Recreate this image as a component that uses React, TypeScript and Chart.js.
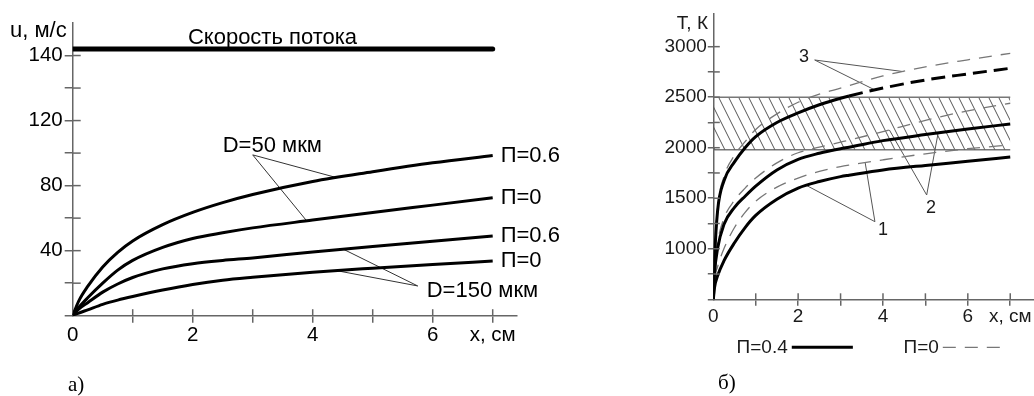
import React, { useEffect, useRef } from 'react';
import { Chart, registerables } from 'chart.js';

Chart.register(...registerables);

// ---------------- Panel а): particle velocity u(x) ----------------
const xA = [0, 0.1, 0.25, 0.5, 0.75, 1, 1.5, 2, 2.5, 3, 4, 5, 6, 7];
const uD50P06 = [0, 9, 18, 30, 39, 46, 56, 63.5, 69.5, 74.5, 82.5, 88.5, 94, 98.5];
const uD50P0 = [0, 5, 11, 20, 28, 34, 42, 47.5, 51, 54, 58.8, 63.5, 68, 72.5];
const uD150P06 = [0, 4, 8, 14.5, 19.5, 23.5, 28.8, 32, 34, 35.5, 39.2, 42.6, 45.8, 49];
const uD150P0 = [0, 1.6, 3.6, 7, 9.6, 11.8, 15.8, 19.2, 21.8, 23.6, 26.7, 29.2, 31.5, 33.6];
const flowX = [0, 7];
const flowU = [164, 164];
const endLabelsA = ['П=0.6', 'П=0', 'П=0.6', 'П=0'];
const xTickLabels = ['0', '', '2', '', '4', '', '6', 'x, см'];
const yTickLabelsA = ['', '', '40', '', '80', '', '120', '', '140'];
// leader lines: [fromX, fromY, toX, toY]
const leadersA = [
  [3.0, 98.9, 4.4, 84.9],
  [3.0, 98.9, 3.9, 58.3],
  [5.75, 18.3, 4.51, 40.9],
  [5.75, 18.3, 4.4, 27.7],
];

// ---------------- Panel б): temperature T(x) ----------------
const xB = [0, 0.03, 0.1, 0.25, 0.5, 0.75, 1, 1.5, 2, 2.5, 3, 3.2, 4, 5, 6, 7];
const t3P04 = [500, 900, 1370, 1670, 1860, 2000, 2110, 2250, 2345, 2425, 2490, 2512, 2590, 2670, 2730, 2786];
const t3P0 = [500, 920, 1400, 1710, 1925, 2060, 2180, 2335, 2450, 2530, 2590, 2615, 2710, 2800, 2870, 2934];
const t2P04 = [500, 760, 1000, 1240, 1410, 1520, 1620, 1780, 1885, 1945, 1990, 2005, 2070, 2130, 2185, 2235];
const t2P0 = [500, 800, 1060, 1300, 1480, 1600, 1700, 1850, 1950, 2005, 2055, 2075, 2160, 2270, 2365, 2440];
const t1P0 = [500, 690, 820, 1000, 1210, 1360, 1470, 1610, 1700, 1765, 1813, 1828, 1880, 1940, 1990, 2027];
const t1P04 = [500, 620, 730, 880, 1060, 1210, 1330, 1490, 1600, 1665, 1714, 1728, 1780, 1825, 1865, 1908];
const solidEndX = 3.2;
const bandX = [0, 7];
const bandTop = [2500, 2500];
const bandBottom = [1980, 1980];
const yTickLabelsB = ['', '', '1000', '', '1500', '', '2000', '', '2500', '', '3000'];
const leadersB = [
  [2.39, 2868, 4.48, 2753],
  [2.39, 2868, 3.81, 2571],
  [5.03, 1532, 5.3, 2146],
  [5.03, 1532, 4.15, 2176],
  [3.81, 1268, 3.58, 1853],
  [3.81, 1268, 2.2, 1626],
];

const SANS = "'Liberation Sans', Arial, sans-serif";
const SERIF = "'Liberation Serif', 'Times New Roman', serif";
const AXIS = '#666';

const pts = (xs: number[], ys: number[]) => xs.map((x, i) => ({ x, y: ys[i] }));

function curve(xs: number[], ys: number[], extra: any = {}) {
  return {
    data: pts(xs, ys),
    borderColor: '#000',
    borderWidth: 3,
    pointRadius: 0,
    fill: false,
    cubicInterpolationMode: 'monotone',
    ...extra,
  };
}

function leader(seg: number[], color: string) {
  return {
    data: [
      { x: seg[0], y: seg[1] },
      { x: seg[2], y: seg[3] },
    ],
    borderColor: color,
    borderWidth: 1,
    pointRadius: 0,
    fill: false,
    tension: 0,
  };
}

type Txt = {
  text: string;
  x: number;
  y: number;
  dx?: number;
  dy?: number;
  align?: CanvasTextAlign;
  baseline?: CanvasTextBaseline;
  font: string;
  color?: string;
};
type Leg = { text: string; x0: number; x1: number; dy: number; width: number; color: string; dash: number[]; font: string; textColor: string };

function makeOverlay(cfg: { innerX: number; innerY: number; texts: Txt[]; legend?: Leg[] }) {
  return {
    id: 'overlay',
    afterDraw(chart: any) {
      const { ctx, chartArea } = chart;
      const xs = chart.scales.x;
      const ys = chart.scales.y;
      ctx.save();
      ctx.strokeStyle = AXIS;
      ctx.lineWidth = 1.5;
      for (const t of xs.ticks) {
        if (t.value === xs.min) continue;
        const px = xs.getPixelForValue(t.value);
        ctx.beginPath();
        ctx.moveTo(px, chartArea.bottom);
        ctx.lineTo(px, chartArea.bottom - cfg.innerX);
        ctx.stroke();
      }
      for (const t of ys.ticks) {
        if (t.value === ys.min) continue;
        const py = ys.getPixelForValue(t.value);
        ctx.beginPath();
        ctx.moveTo(chartArea.left, py);
        ctx.lineTo(chartArea.left + cfg.innerY, py);
        ctx.stroke();
      }
      for (const t of cfg.texts) {
        ctx.font = t.font;
        ctx.fillStyle = t.color || '#000';
        ctx.textAlign = t.align || 'left';
        ctx.textBaseline = t.baseline || 'alphabetic';
        ctx.fillText(t.text, xs.getPixelForValue(t.x) + (t.dx || 0), ys.getPixelForValue(t.y) + (t.dy || 0));
      }
      for (const l of cfg.legend || []) {
        const y = chartArea.bottom + l.dy;
        const x0 = xs.getPixelForValue(l.x0);
        const x1 = xs.getPixelForValue(l.x1);
        ctx.font = l.font;
        ctx.fillStyle = l.textColor;
        ctx.textAlign = 'right';
        ctx.textBaseline = 'middle';
        ctx.fillText(l.text, x0 - 4, y);
        ctx.beginPath();
        ctx.setLineDash(l.dash);
        ctx.strokeStyle = l.color;
        ctx.lineWidth = l.width;
        ctx.moveTo(x0, y);
        ctx.lineTo(x1, y);
        ctx.stroke();
        ctx.setLineDash([]);
      }
      ctx.restore();
    },
  };
}

const hideZero = (c: any) => (c.tick && c.tick.value === 0 ? 'rgba(0,0,0,0)' : AXIS);

function buildA(canvas: HTMLCanvasElement) {
  const series = [uD50P06, uD50P0, uD150P06, uD150P0];
  const texts: Txt[] = [
    { text: 'Скорость потока', x: 3.33, y: flowU[0], dy: -5.5, align: 'center', font: `22px ${SANS}` },
    { text: 'D=50 мкм', x: 2.5, y: 100.9, font: `22px ${SANS}` },
    { text: 'D=150 мкм', x: 5.9, y: 11.7, font: `22px ${SANS}` },
    { text: 'u, м/с', x: 0, y: 180, dx: -6, dy: 13.5, align: 'right', font: `22px ${SANS}` },
    { text: 'а)', x: 0, y: 0, dx: -4.7, dy: 75.5, font: `21px ${SERIF}` },
    ...endLabelsA.map((text, i) => ({
      text,
      x: xA[xA.length - 1],
      y: series[i][series[i].length - 1],
      dx: 8,
      baseline: 'middle' as CanvasTextBaseline,
      font: `22px ${SANS}`,
    })),
  ];
  return new Chart(canvas, {
    type: 'line',
    data: {
      datasets: [
        curve(flowX, flowU, { borderWidth: 5, borderCapStyle: 'round', cubicInterpolationMode: 'default', tension: 0 }),
        ...series.map((s) => curve(xA, s)),
        ...leadersA.map((s) => leader(s, '#333')),
      ] as any,
    },
    options: {
      responsive: false,
      animation: false,
      devicePixelRatio: 1,
      layout: { padding: { left: 0, top: 23, right: 43.3, bottom: 0 } },
      plugins: { legend: { display: false }, tooltip: { enabled: false } },
      scales: {
        x: {
          type: 'linear',
          min: 0,
          max: 7.4,
          afterBuildTicks: (s: any) => {
            s.ticks = s.ticks.filter((t: any) => t.value <= 7);
          },
          ticks: {
            stepSize: 1,
            includeBounds: false,
            autoSkip: false,
            maxRotation: 0,
            padding: 0,
            color: '#000',
            font: { family: SANS, size: 20.5 },
            callback: (_v: any, i: number) => xTickLabels[i] ?? '',
          },
          grid: { drawOnChartArea: false, drawTicks: true, tickLength: 7, lineWidth: 1.5, color: hideZero },
          border: { display: true, color: AXIS, width: 1.5 },
          afterFit: (s: any) => {
            s.height = 80.3;
            s.paddingLeft = 0;
            s.paddingRight = 0;
          },
        },
        y: {
          type: 'linear',
          min: 0,
          max: 180,
          afterBuildTicks: (s: any) => {
            s.ticks = s.ticks.filter((t: any) => t.value <= 160);
          },
          ticks: {
            stepSize: 20,
            includeBounds: false,
            autoSkip: false,
            padding: 2,
            color: '#000',
            font: { family: SANS, size: 20.5 },
            callback: (_v: any, i: number) => yTickLabelsA[i] ?? '',
          },
          grid: { drawOnChartArea: false, drawTicks: true, tickLength: 8, lineWidth: 1.5, color: AXIS },
          border: { display: true, color: AXIS, width: 1.5 },
          afterFit: (s: any) => {
            s.width = 72.7;
            s.paddingTop = 0;
            s.paddingBottom = 0;
          },
        },
      },
    } as any,
    plugins: [makeOverlay({ innerX: 6.5, innerY: 8, texts })],
  });
}

function hatchPattern(): any {
  const c = document.createElement('canvas');
  c.width = 10;
  c.height = 20;
  const g = c.getContext('2d');
  if (!g) return 'rgba(0,0,0,0.1)';
  g.strokeStyle = '#555';
  g.lineWidth = 1;
  for (let k = -1; k <= 1; k++) {
    g.beginPath();
    g.moveTo(k * 10 - 10, -20);
    g.lineTo(k * 10 + 20, 40);
    g.stroke();
  }
  return g.createPattern(c, 'repeat') || 'rgba(0,0,0,0.1)';
}

function buildB(canvas: HTMLCanvasElement) {
  const thin = { borderColor: '#777', borderWidth: 1.3, borderDash: [13, 9] };
  const texts: Txt[] = [
    { text: 'T, К', x: 0, y: 3330, dx: -5.3, dy: 15.2, align: 'right', font: `19px ${SANS}`, color: '#1a1a1a' },
    { text: '3', x: 2.14, y: 2893, align: 'center', baseline: 'middle', font: `18px ${SANS}`, color: '#1a1a1a' },
    { text: '2', x: 5.13, y: 1404, align: 'center', baseline: 'middle', font: `18px ${SANS}`, color: '#1a1a1a' },
    { text: '1', x: 4.0, y: 1181, align: 'center', baseline: 'middle', font: `18px ${SANS}`, color: '#1a1a1a' },
    { text: 'б)', x: 0, y: 500, dx: 4.7, dy: 89.7, font: `21px ${SERIF}` },
  ];
  const legend: Leg[] = [
    { text: 'П=0.4', x0: 1.85, x1: 3.29, dy: 48, width: 3, color: '#000', dash: [], font: `19px ${SANS}`, textColor: '#1a1a1a' },
    { text: 'П=0', x0: 5.41, x1: 6.84, dy: 48, width: 1.3, color: '#777', dash: [13, 9], font: `19px ${SANS}`, textColor: '#1a1a1a' },
  ];
  return new Chart(canvas, {
    type: 'line',
    data: {
      datasets: [
        curve(xB, t3P04, {
          segment: { borderDash: (ctx: any) => (ctx.p0.parsed.x >= solidEndX - 1e-9 ? [14, 7] : undefined) },
        }),
        curve(xB, t2P04),
        curve(xB, t1P04),
        curve(xB, t3P0, thin),
        curve(xB, t2P0, thin),
        curve(xB, t1P0, thin),
        ...leadersB.map((s) => leader(s, '#555')),
        {
          data: pts(bandX, bandTop),
          borderColor: '#777',
          borderWidth: 1.5,
          pointRadius: 0,
          tension: 0,
          fill: '+1',
          backgroundColor: hatchPattern(),
        },
        { data: pts(bandX, bandBottom), borderColor: '#777', borderWidth: 1.5, pointRadius: 0, tension: 0, fill: false },
      ] as any,
    },
    options: {
      responsive: false,
      animation: false,
      devicePixelRatio: 1,
      layout: { padding: { left: 0, top: 13.3, right: 0, bottom: 0 } },
      plugins: { legend: { display: false }, tooltip: { enabled: false } },
      scales: {
        x: {
          type: 'linear',
          min: 0,
          max: 7.56,
          afterBuildTicks: (s: any) => {
            s.ticks = s.ticks.filter((t: any) => t.value <= 7);
          },
          ticks: {
            stepSize: 1,
            includeBounds: false,
            autoSkip: false,
            maxRotation: 0,
            padding: 0,
            color: '#1a1a1a',
            font: { family: SANS, size: 19 },
            callback: (_v: any, i: number) => xTickLabels[i] ?? '',
          },
          grid: { drawOnChartArea: false, drawTicks: true, tickLength: 6.5, lineWidth: 1.5, color: hideZero },
          border: { display: true, color: AXIS, width: 1.5 },
          afterFit: (s: any) => {
            s.height = 96.7;
            s.paddingLeft = 0;
            s.paddingRight = 0;
          },
        },
        y: {
          type: 'linear',
          min: 500,
          max: 3330,
          afterBuildTicks: (s: any) => {
            s.ticks = s.ticks.filter((t: any) => t.value <= 3000);
          },
          ticks: {
            stepSize: 250,
            includeBounds: false,
            autoSkip: false,
            padding: 1,
            color: '#1a1a1a',
            font: { family: SANS, size: 19 },
            callback: (_v: any, i: number) => yTickLabelsB[i] ?? '',
          },
          grid: { drawOnChartArea: false, drawTicks: true, tickLength: 5.5, lineWidth: 1.5, color: AXIS },
          border: { display: true, color: AXIS, width: 1.5 },
          afterFit: (s: any) => {
            s.width = 153.3;
            s.paddingTop = 0;
            s.paddingBottom = 0;
          },
        },
      },
    } as any,
    plugins: [makeOverlay({ innerX: 6, innerY: 6.5, texts, legend })],
  });
}

export default function App() {
  const refA = useRef<HTMLCanvasElement>(null);
  const refB = useRef<HTMLCanvasElement>(null);
  useEffect(() => {
    const charts: Chart[] = [];
    if (refA.current) charts.push(buildA(refA.current));
    if (refB.current) charts.push(buildB(refB.current));
    return () => charts.forEach((c) => c.destroy());
  }, []);
  return (
    <div style={{ position: 'absolute', left: 0, top: 0, width: 1034, height: 396, background: '#fff', overflow: 'hidden' }}>
      <canvas ref={refA} width={560} height={396} style={{ position: 'absolute', left: 0, top: 0 }} />
      <canvas ref={refB} width={474} height={396} style={{ position: 'absolute', left: 560, top: 0 }} />
    </div>
  );
}
